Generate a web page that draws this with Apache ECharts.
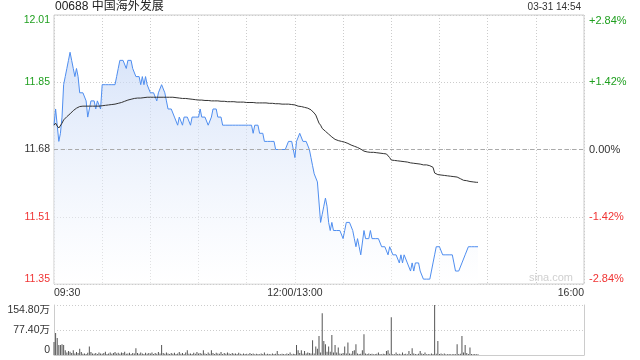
<!DOCTYPE html>
<html><head><meta charset="utf-8">
<script src="https://cdn.jsdelivr.net/npm/echarts@6/dist/echarts.min.js"></script>
<style>html,body{margin:0;padding:0;background:#fff}#c{width:640px;height:360px}</style>
</head><body><div id="c"></div>
<script>
const stockTitle = '00688 中国海外发展';
const stampText = '03-31 14:54';
const prevClose = 11.68;
const priceMin = 11.348, priceMax = 12.012, priceStep = 0.166;
const pctMax = 2.84, pctStep = 1.42;
const volMax = 154.8, volStep = 77.4;
const totalMinutes = 330;
const timeTickPos = [0, 150, 330];
const timeTickText = ['09:30', '12:00/13:00', '16:00'];

const prices = [
11.74,11.78,11.74,11.70,11.72,11.76,11.84,11.86,11.88,11.90,
11.92,11.90,11.88,11.86,11.88,11.86,11.82,11.82,11.82,11.82,
11.80,11.76,11.78,11.80,11.80,11.80,11.78,11.80,11.80,11.78,
11.84,11.84,11.84,11.84,11.84,11.84,11.84,11.84,11.84,11.86,
11.88,11.90,11.90,11.90,11.90,11.88,11.90,11.90,11.90,11.88,
11.88,11.86,11.86,11.86,11.84,11.86,11.84,11.86,11.84,11.84,
11.82,11.82,11.82,11.82,11.80,11.82,11.82,11.84,11.84,11.82,
11.80,11.78,11.78,11.78,11.78,11.76,11.76,11.74,11.76,11.76,
11.74,11.76,11.76,11.76,11.76,11.74,11.76,11.76,11.76,11.76,
11.76,11.78,11.76,11.76,11.76,11.76,11.74,11.74,11.76,11.78,
11.78,11.78,11.76,11.76,11.76,11.74,11.74,11.74,11.74,11.74,
11.74,11.74,11.74,11.74,11.74,11.74,11.74,11.74,11.74,11.74,
11.74,11.74,11.74,11.74,11.72,11.74,11.74,11.74,11.72,11.72,
11.72,11.70,11.70,11.70,11.70,11.70,11.70,11.70,11.68,11.68,
11.68,11.68,11.68,11.68,11.68,11.68,11.70,11.70,11.70,11.70,
11.66,11.70,11.70,11.72,11.72,11.70,11.70,11.70,11.70,11.68,
11.66,11.64,11.62,11.62,11.60,11.60,11.50,11.52,11.54,11.56,
11.54,11.50,11.48,11.50,11.48,11.48,11.48,11.48,11.48,11.48,
11.46,11.48,11.50,11.50,11.50,11.50,11.48,11.46,11.44,11.46,
11.44,11.42,11.42,11.48,11.46,11.46,11.46,11.48,11.46,11.46,
11.46,11.46,11.46,11.46,11.44,11.44,11.44,11.44,11.42,11.44,
11.44,11.42,11.42,11.42,11.42,11.40,11.42,11.40,11.42,11.42,
11.40,11.40,11.38,11.40,11.38,11.40,11.40,11.40,11.38,11.38,
11.36,11.36,11.36,11.36,11.36,11.38,11.40,11.42,11.44,11.44,
11.44,11.44,11.42,11.42,11.42,11.42,11.42,11.42,11.42,11.40,
11.38,11.38,11.38,11.38,11.40,11.40,11.42,11.42,11.44,11.44,
11.44,11.44,11.44,11.44,11.44
];

const avgPrices = [
11.740,11.745,11.738,11.733,11.736,11.745,11.753,11.757,11.761,11.765,
11.768,11.772,11.776,11.779,11.782,11.784,11.786,11.787,11.787,11.787,
11.787,11.787,11.787,11.787,11.787,11.787,11.787,11.787,11.787,11.787,
11.788,11.788,11.789,11.789,11.790,11.790,11.791,11.791,11.792,11.793,
11.794,11.795,11.796,11.797,11.799,11.800,11.802,11.803,11.804,11.805,
11.806,11.806,11.807,11.807,11.807,11.808,11.808,11.808,11.809,11.809,
11.809,11.809,11.809,11.809,11.809,11.809,11.809,11.809,11.809,11.809,
11.809,11.809,11.809,11.809,11.809,11.808,11.808,11.808,11.807,11.807,
11.806,11.806,11.806,11.805,11.805,11.804,11.804,11.804,11.803,11.803,
11.802,11.802,11.802,11.802,11.801,11.801,11.801,11.801,11.800,11.800,
11.800,11.800,11.800,11.799,11.799,11.799,11.799,11.799,11.798,11.798,
11.798,11.798,11.798,11.798,11.797,11.797,11.797,11.797,11.797,11.797,
11.796,11.796,11.796,11.796,11.796,11.796,11.795,11.795,11.795,11.795,
11.795,11.795,11.795,11.794,11.794,11.794,11.794,11.793,11.793,11.793,
11.793,11.793,11.792,11.792,11.792,11.792,11.792,11.792,11.791,11.791,
11.790,11.787,11.787,11.786,11.786,11.785,11.784,11.783,11.782,11.781,
11.778,11.774,11.770,11.765,11.755,11.745,11.740,11.732,11.728,11.725,
11.722,11.718,11.714,11.711,11.708,11.705,11.703,11.702,11.701,11.700,
11.699,11.698,11.697,11.695,11.693,11.691,11.690,11.688,11.687,11.685,
11.683,11.681,11.679,11.676,11.675,11.674,11.674,11.673,11.673,11.673,
11.672,11.672,11.671,11.671,11.671,11.670,11.670,11.669,11.668,11.660,
11.654,11.653,11.653,11.652,11.652,11.651,11.651,11.651,11.650,11.650,
11.649,11.648,11.647,11.646,11.646,11.645,11.645,11.644,11.644,11.643,
11.642,11.642,11.642,11.641,11.640,11.638,11.636,11.622,11.620,11.618,
11.617,11.617,11.616,11.616,11.615,11.615,11.614,11.614,11.613,11.613,
11.613,11.612,11.610,11.608,11.605,11.604,11.603,11.603,11.602,11.601,
11.600,11.600,11.599,11.599,11.599
];

// volume in 万 shares
const volumes = [
40,68,53,31,31,33,31,15,8,12,
10,6,15,5,9,6,19,9,4,5,
3,7,26,9,5,4,6,3,8,5,
4,6,10,3,5,8,4,6,9,5,
7,4,8,6,10,4,5,7,3,6,
5,21,6,4,8,5,3,7,4,6,
5,8,3,6,4,9,5,31,6,4,
8,5,3,6,4,7,3,5,9,4,
6,3,8,15,4,5,3,7,4,9,
5,6,4,15,5,3,8,4,15,6,
3,7,5,4,9,3,6,4,8,5,
3,6,4,5,3,7,4,2,5,3,
4,2,6,3,5,2,4,3,2,5,
3,8,2,4,3,2,5,3,4,12,
3,2,4,3,2,5,3,8,2,4,
3,31,15,6,15,4,12,5,8,6,
5,46,5,26,19,59,8,129,43,33,
10,26,10,62,8,31,8,23,5,4,
6,26,5,39,5,4,12,15,33,5,
3,4,15,64,5,3,5,3,4,2,
3,4,8,3,2,4,3,12,15,4,
117,3,2,8,3,4,2,8,3,4,
2,12,3,21,5,3,2,4,12,5,
3,8,2,3,2,5,3,154.8,4,43,
3,5,2,5,2,2,3,2,2,3,
2,33,3,4,59,8,31,6,3,23,
3,2,3,2,2
];

const FONT = '"Liberation Sans", Arial, "Noto Sans CJK SC", sans-serif';
const GREEN = '#1f9f1f', RED = '#f03333', BLACK = '#333333';
const GRID_C = '#cccccc';

const chart = echarts.init(document.getElementById('c'), null, {renderer: 'canvas'});

function colorKey(diff) {
  if (Math.abs(diff) < 1e-6) return 'k';
  return diff > 0 ? 'g' : 'r';
}
const richStyles = (fs) => ({
  g: {color: GREEN, fontSize: fs, fontFamily: FONT},
  r: {color: RED, fontSize: fs, fontFamily: FONT},
  k: {color: BLACK, fontSize: fs, fontFamily: FONT}
});

const option = {
  animation: false,
  backgroundColor: '#ffffff',
  title: [
    {text: stockTitle, left: 55, top: 1, padding: 0,
     textStyle: {fontSize: 12, fontWeight: 'normal', color: '#222', fontFamily: FONT}},
    {text: stampText, right: 59, top: 2, padding: 0,
     textStyle: {fontSize: 10, fontWeight: 'normal', color: '#333', fontFamily: FONT}}
  ],
  graphic: [
    {type: 'text', right: 67, top: 272, silent: true,
     style: {text: 'sina.com', fill: '#d0d0d0', font: '11px "Liberation Sans", Arial, sans-serif'}}
  ],
  grid: [
    {left: 54, right: 56, top: 15, height: 269, show: true, borderColor: GRID_C, borderWidth: 1, backgroundColor: 'transparent'},
    {left: 54, right: 56, top: 305, height: 50}
  ],
  xAxis: [
    {gridIndex: 0, type: 'value', min: 0, max: totalMinutes, interval: 30,
     axisLine: {show: false, onZero: false}, axisTick: {show: false},
     splitLine: {show: true, lineStyle: {color: GRID_C, type: [1, 2], width: 1}},
     axisLabel: {show: true, margin: 4, fontSize: 10.5, color: '#333', fontFamily: FONT,
       alignMinLabel: 'left', alignMaxLabel: 'right',
       formatter: (v) => { const i = timeTickPos.indexOf(Math.round(v)); return i >= 0 ? timeTickText[i] : ''; }}},
    {gridIndex: 1, type: 'value', min: 0, max: totalMinutes, interval: 30,
     axisLine: {show: true, onZero: false, lineStyle: {color: GRID_C}}, axisTick: {show: false},
     splitLine: {show: false}, axisLabel: {show: false}}
  ],
  yAxis: [
    {gridIndex: 0, type: 'value', min: priceMin, max: priceMax, interval: priceStep, position: 'left',
     axisLine: {show: false, onZero: false}, axisTick: {show: false},
     splitLine: {show: true, lineStyle: {color: GRID_C, type: [1, 2], width: 1}},
     axisLabel: {margin: 4, fontSize: 10.5, fontFamily: FONT,
       verticalAlignMinLabel: 'bottom', verticalAlignMaxLabel: 'top',
       formatter: (v) => '{' + colorKey(v - prevClose) + '|' + v.toFixed(2) + '}',
       rich: richStyles(10.5)}},
    {gridIndex: 0, type: 'value', min: -pctMax, max: pctMax, interval: pctStep, position: 'right',
     axisLine: {show: false, onZero: false}, axisTick: {show: false}, splitLine: {show: false},
     axisLabel: {margin: 5, fontSize: 11, fontFamily: FONT,
       verticalAlignMinLabel: 'bottom', verticalAlignMaxLabel: 'top',
       formatter: (v) => {
         const k = colorKey(v);
         const t = k === 'k' ? '0.00%' : (v > 0 ? '+' : '') + v.toFixed(2) + '%';
         return '{' + k + '|' + t + '}';
       },
       rich: richStyles(11)}},
    {gridIndex: 1, type: 'value', min: 0, max: volMax, interval: volStep, position: 'left',
     axisLine: {show: true, onZero: false, lineStyle: {color: GRID_C}}, axisTick: {show: false},
     splitLine: {show: true, lineStyle: {color: GRID_C, type: [1, 2], width: 1}},
     axisLabel: {margin: 4, fontSize: 10.5, color: '#333', fontFamily: FONT,
       verticalAlignMinLabel: 'bottom', verticalAlignMaxLabel: 'top',
       formatter: (v) => v === 0 ? '0' : v.toFixed(2) + '万'}},
    {gridIndex: 1, type: 'value', min: 0, max: 1, position: 'right',
     axisLine: {show: true, onZero: false, lineStyle: {color: GRID_C}}, axisTick: {show: false},
     splitLine: {show: false}, axisLabel: {show: false}}
  ],
  series: [
    {name: 'price', type: 'line', xAxisIndex: 0, yAxisIndex: 0,
     data: prices.map((p, i) => [i, p]),
     symbol: 'none', showSymbol: false, z: 3,
     lineStyle: {color: '#4f8ef0', width: 1},
     areaStyle: {origin: 'start', color: new echarts.graphic.LinearGradient(0, 0, 0, 1, [
       {offset: 0, color: 'rgba(196,214,246,0.95)'},
       {offset: 1, color: 'rgba(255,255,255,0.6)'}
     ])},
     markLine: {silent: true, symbol: 'none', label: {show: false},
       lineStyle: {color: '#aaaaaa', type: [4, 3], width: 1},
       data: [{yAxis: prevClose}]}},
    {name: 'avg', type: 'line', xAxisIndex: 0, yAxisIndex: 0,
     data: avgPrices.map((p, i) => [i, p]),
     symbol: 'none', showSymbol: false, z: 4,
     lineStyle: {color: '#333333', width: 1}},
    {name: 'vol', type: 'bar', xAxisIndex: 1, yAxisIndex: 2,
     data: volumes.map((v, i) => [i, v]),
     barWidth: 1, itemStyle: {color: '#555555'}}
  ]
};
chart.setOption(option);
</script>
</body></html>
